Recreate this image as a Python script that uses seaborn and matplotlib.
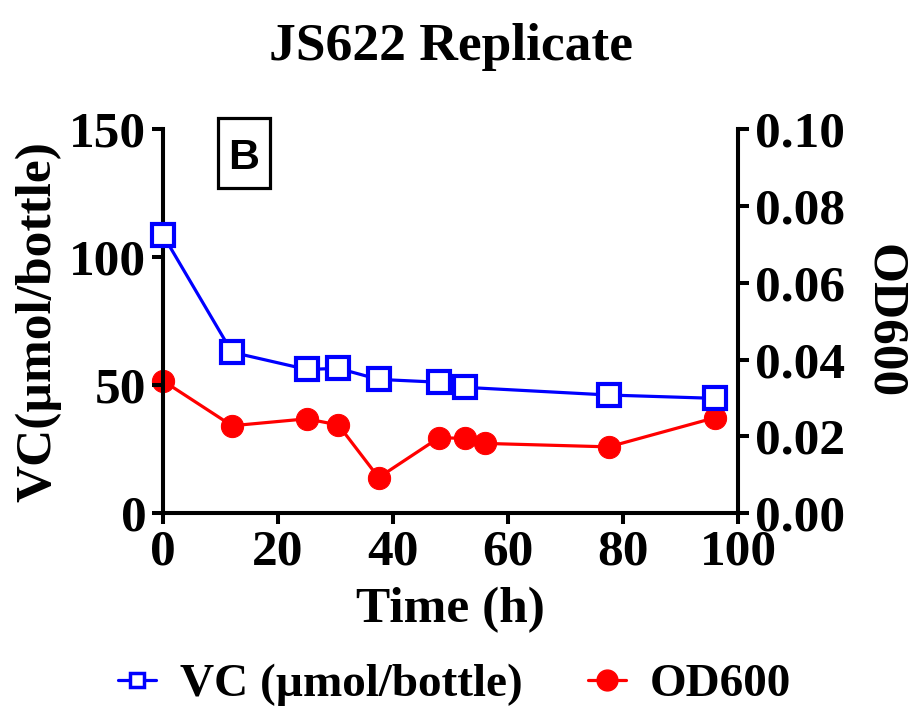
import matplotlib
matplotlib.use("Agg")
import matplotlib.pyplot as plt
import seaborn as sns
import pandas as pd
from matplotlib.lines import Line2D
from matplotlib.patches import Rectangle

# Data
vc_time = [0, 12, 25, 30.5, 37.5, 48, 52.5, 77.5, 96]
vc_vals = [108.7, 62.9, 56.2, 56.6, 52.3, 51.2, 49.2, 46.2, 44.9]
od_time = [0, 12, 25, 30.5, 37.5, 48, 52.5, 56, 77.5, 96]
od_vals = [0.0345, 0.0228, 0.0246, 0.0230, 0.0093, 0.0197, 0.0195, 0.0182, 0.0173, 0.0249]
x_ticks = [0, 20, 40, 60, 80, 100]
left_ticks = [0, 50, 100, 150]
right_ticks = [0, 0.02, 0.04, 0.06, 0.08, 0.10]
right_labels = ["0.00", "0.02", "0.04", "0.06", "0.08", "0.10"]

sns.set_style("ticks")
plt.rcParams["font.family"] = ["Liberation Serif", "DejaVu Serif"]
plt.rcParams["font.weight"] = "bold"
for k in ["text.color", "axes.labelcolor", "xtick.color", "ytick.color", "axes.edgecolor"]:
    plt.rcParams[k] = "black"

df_vc = pd.DataFrame({"t": vc_time, "v": vc_vals})
df_od = pd.DataFrame({"t": od_time, "v": od_vals})

fig = plt.figure(figsize=(9.23, 7.08), dpi=100)
ax = fig.add_axes([0.1766, 0.275, 0.623, 0.5424])
ax2 = ax.twinx()

blue = "#0000FF"
red = "#FF0000"

sns.lineplot(data=df_od, x="t", y="v", ax=ax2, color=red, marker="o",
             markersize=16, markeredgecolor=red, markerfacecolor=red,
             linewidth=2.3, zorder=3, clip_on=False)
sns.lineplot(data=df_vc, x="t", y="v", ax=ax, color=blue, marker="s",
             markersize=16.5, markeredgewidth=3.0, markeredgecolor=blue,
             markerfacecolor="white", linewidth=2.3, zorder=4, clip_on=False)

ax.set_zorder(ax2.get_zorder() + 1)
ax.patch.set_visible(False)

ax.set_xlim(0, 100)
ax.set_ylim(0, 150)
ax2.set_ylim(0, 0.10)
ax.set_xticks(x_ticks)
ax.set_yticks(left_ticks)
ax2.set_yticks(right_ticks)
ax2.set_yticklabels(right_labels)

fs = 37
for a in (ax, ax2):
    a.tick_params(width=2.9, length=8, labelsize=fs, direction="out", pad=4,
                  colors="black")
    for lab in a.get_xticklabels() + a.get_yticklabels():
        lab.set_fontweight("bold")
    for s in a.spines.values():
        s.set_linewidth(2.9)
        s.set_color("black")
    a.spines["top"].set_visible(False)

ax.set_xlabel("Time (h)", fontsize=fs, fontweight="bold", labelpad=8)
ax.set_ylabel("VC(µmol/bottle)", fontsize=fs, fontweight="bold", labelpad=6)
ax2.set_ylabel("OD600", fontsize=fs, fontweight="bold", rotation=270, labelpad=45)
ax.set_title("JS622 Replicate", fontsize=38.5, fontweight="bold", pad=50)

# Panel label "B" in a box
ax.add_patch(Rectangle((0.0957, 0.847), 0.0904, 0.182, transform=ax.transAxes,
                       fill=False, ec="black", lw=2.3, clip_on=False, zorder=5))
ax.text(0.141, 0.8966, "B", transform=ax.transAxes, ha="center", va="baseline",
        fontsize=31, fontweight="bold", family="Liberation Sans", zorder=6)

handles = [
    Line2D([], [], color=blue, marker="s", markersize=10, markeredgewidth=2.5,
           markerfacecolor="white", markeredgecolor=blue, linewidth=2.3),
    Line2D([], [], color=red, marker="o", markersize=15, markerfacecolor=red,
           markeredgecolor=red, linewidth=2.3),
]
fig.legend(handles, ["VC (µmol/bottle)", "OD600"], loc="center",
           bbox_to_anchor=(0.4925, 0.033), ncol=2, frameon=False,
           prop={"size": 34, "weight": "bold"}, handlelength=0.8,
           handletextpad=0.5, columnspacing=1.4)

fig.savefig("out.png", dpi=100)
